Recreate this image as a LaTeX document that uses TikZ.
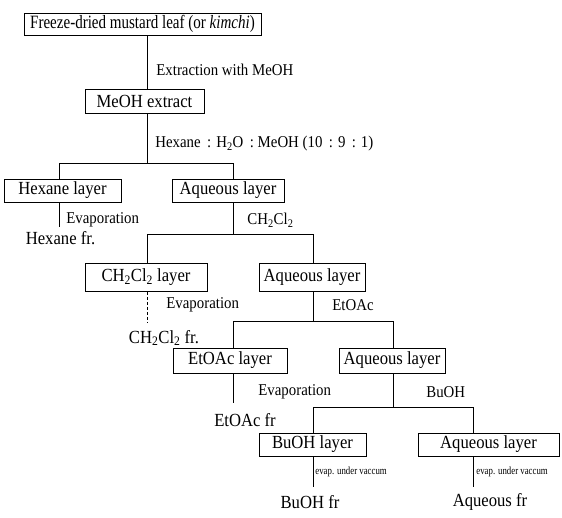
\documentclass[tikz,border=0pt]{standalone}
\usepackage{fontspec}
\setmainfont{Liberation Serif}[FakeStretch=0.9]
\newfontfamily\narrowfont{Liberation Serif}[FakeStretch=0.8]
\begin{document}
\begin{tikzpicture}[x=1pt,y=-1pt,
  line width=0.8pt,
  bx/.style={draw, inner sep=0pt, minimum height=23pt, font=\fontsize{18.5}{20}\selectfont},
  ann/.style={anchor=west, inner sep=0pt, font=\fontsize{16.5}{18}\selectfont},
  res/.style={inner sep=0pt, font=\fontsize{18.5}{20}\selectfont},
  sm/.style={anchor=west, inner sep=0pt, font=\narrowfont\fontsize{11}{12}\selectfont},
  dsh/.style={dash pattern=on 3pt off 2pt}]
\useasboundingbox (0,0) rectangle (562,518);
% boxes
\node[bx, minimum width=237pt, minimum height=22pt, font=\narrowfont\fontsize{18.8}{21}\selectfont] (top) at (142.5,24) {Freeze-dried mustard leaf (or \textit{kimchi})};
\node[bx, minimum width=119pt, minimum height=24pt] (meoh) at (144.5,101) {MeOH extract};
\node[bx, minimum width=117pt] (hexl) at (62.5,190.5) {Hexane layer};
\node[bx, minimum width=112pt] (aqa) at (228,190.5) {Aqueous layer};
\node[bx, minimum width=122pt, minimum height=28pt] (dcm) at (146,277.5) {CH\textsubscript{2}Cl\textsubscript{2} layer};
\node[bx, minimum width=106pt, minimum height=28pt] (aqb) at (312,277.5) {Aqueous layer};
\node[bx, minimum width=114pt, minimum height=25pt] (eta) at (230,360.5) {EtOAc layer};
\node[bx, minimum width=106pt, minimum height=25pt] (aqc) at (392,360.5) {Aqueous layer};
\node[bx, minimum width=107pt] (buo) at (312.5,444.5) {BuOH layer};
\node[bx, minimum width=141pt] (aqd) at (488.5,444.5) {Aqueous layer};
% results
\node[res] (hexfr) at (60.5,238) {Hexane fr.};
\node[res] (dcmfr) at (164,338) {CH\textsubscript{2}Cl\textsubscript{2} fr.};
\node[res] (etfr) at (245,420) {EtOAc fr};
\node[res] (bufr) at (310,502) {BuOH fr};
\node[res] (aqfr) at (490,502) {Aqueous fr};
% annotations
\node[ann] (t1) at (156,70) {Extraction with MeOH};
\node[ann] (t2) at (155,144) {Hexane\, : H\textsubscript{2}O\, : MeOH (10\, : 9\, : 1)};
\node[ann] (t3) at (66,220) {Evaporation};
\node[ann] (t4) at (247,220) {CH\textsubscript{2}Cl\textsubscript{2}};
\node[ann] (t5) at (166,305) {Evaporation};
\node[ann] (t6) at (332,305) {EtOAc};
\node[ann] (t7) at (258,392) {Evaporation};
\node[ann] (t8) at (426,392) {BuOH};
\node[sm] (s1) at (315,472) {evap. under vaccum};
\node[sm] (s2) at (476,472) {evap. under vaccum};
% coordinates
\coordinate (v1) at (147,0);
\coordinate (v2) at (59,0);
\coordinate (v3) at (233,0);
\coordinate (v4) at (313,0);
\coordinate (v5) at (393,0);
\coordinate (v6) at (473,0);
\coordinate (b1) at (0,163);
\coordinate (b2) at (0,234);
\coordinate (b3) at (0,321);
\coordinate (b4) at (0,407);
\coordinate (e1) at (59,227);
\coordinate (e2) at (147,322);
\coordinate (e3) at (233,403);
\coordinate (e4) at (313,487);
\coordinate (e5) at (473,487);
% connectors
\draw (top.south -| v1) -- (meoh.north -| v1);
\draw (meoh.south -| v1) -- (b1 -| v1);
\draw (hexl.north -| v2) -- (b1 -| v2) -- (b1 -| v3) -- (aqa.north -| v3);
\draw (hexl.south -| v2) -- (e1);
\draw (aqa.south -| v3) -- (b2 -| v3);
\draw (dcm.north -| v1) -- (b2 -| v1) -- (b2 -| v4) -- (aqb.north -| v4);
\draw[dsh] (dcm.south -| v1) -- (e2);
\draw (aqb.south -| v4) -- (b3 -| v4);
\draw (eta.north -| v3) -- (b3 -| v3) -- (b3 -| v5) -- (aqc.north -| v5);
\draw (eta.south -| v3) -- (e3);
\draw (aqc.south -| v5) -- (b4 -| v5);
\draw (buo.north -| v4) -- (b4 -| v4) -- (b4 -| v6) -- (aqd.north -| v6);
\draw (buo.south -| v4) -- (e4);
\draw (aqd.south -| v6) -- (e5);
\end{tikzpicture}
\end{document}
